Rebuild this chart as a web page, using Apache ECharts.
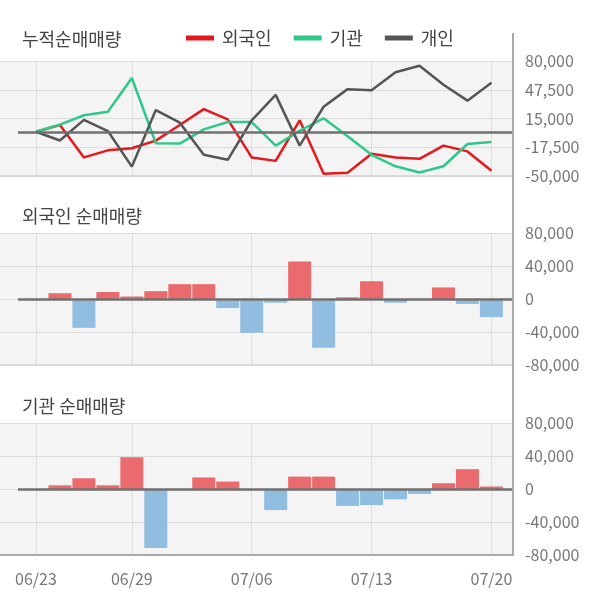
<!DOCTYPE html>
<html>
<head>
<meta charset="utf-8">
<script src="https://cdn.jsdelivr.net/npm/echarts@6/dist/echarts.min.js"></script>
<style>
html,body{margin:0;padding:0;background:#fff;}
#chart{width:600px;height:604px;}
</style>
</head>
<body>
<div id="chart"></div>
<script>
// ---- data ----
var dates = ['06/23','06/24','06/25','06/26','06/29','06/30','07/01','07/02','07/03','07/06',
             '07/07','07/08','07/09','07/10','07/13','07/14','07/15','07/16','07/17','07/20'];
var labelIdx = [0, 4, 9, 14, 19];
var foreignCum = [0, 7600, -29000, -21000, -18700, -10000, 7600, 25600, 14000, -29000,
                  -32900, 13000, -47400, -46300, -24900, -29000, -30600, -15700, -22200, -44000];
var instCum = [0, 8000, 18700, 22600, 60800, -13000, -13400, 2700, 11000, 11000,
               -15700, 1000, 15300, -5000, -26000, -39000, -46000, -39000, -13800, -11500];
var indivCum = [0, -9900, 13400, 800, -39400, 24500, 10300, -26000, -31700, 13000,
                41700, -15700, 28300, 48200, 47000, 67300, 74600, 53200, 35200, 55500];
var foreignNet = [0, 7000, -35000, 8500, 3000, 9500, 18000, 18000, -11000, -41000,
                  -4500, 45500, -59000, 2000, 21500, -4500, 0, 14000, -6000, -22000];
var instNet = [0, 4500, 13000, 4500, 38500, -71500, 0, 14000, 9000, 0,
               -25500, 15000, 15000, -20500, -19500, -12500, -6000, 7000, 24000, 3000];
var topTicks = {min: -50000, max: 80000, interval: 32500};
var barTicks = {min: -80000, max: 80000, interval: 40000};

// ---- styles ----
var FONT = '"Noto Sans CJK KR", "Noto Sans", sans-serif';
var C_RED = '#e8161d', C_GREEN = '#2fc88b', C_DARK = '#555555';
var C_POS = '#ea6a6e', C_NEG = '#90bde0';
var XMIN = -1.5, XMAX = 19.9;

function pairs(arr){ return arr.map(function(v,i){ return [i, v]; }); }
function fmt(v){ return v.toLocaleString('en-US'); }

var grids = [
  {left: 0, right: 87, top: 61, height: 115},
  {left: 0, right: 87, top: 233, height: 132},
  {left: 0, right: 87, top: 423, height: 132}
].map(function(g){
  g.show = true; g.backgroundColor = '#f4f4f4'; g.borderWidth = 0; g.outerBoundsMode = 'none';
  return g;
});

function xAxis(gi, showLabel, lineColor, lineWidth){
  return {
    type: 'value', gridIndex: gi, min: XMIN, max: XMAX,
    axisLine: {show: true, onZero: false, lineStyle: {color: lineColor, width: lineWidth}},
    axisTick: {show: false, customValues: labelIdx},
    splitLine: {show: true, lineStyle: {color: '#dcdcdc', width: 1}},
    axisLabel: {show: showLabel, customValues: labelIdx, margin: 16,
      formatter: function(v){ return dates[Math.round(v)]; },
      color: '#777', fontSize: 16, fontFamily: FONT}
  };
}
function yAxis(gi, t){
  return {
    type: 'value', gridIndex: gi, position: 'right', min: t.min, max: t.max, interval: t.interval,
    axisLine: {show: false}, axisTick: {show: false},
    splitLine: {show: true, lineStyle: {color: '#dcdcdc', width: 1}},
    axisLabel: {margin: 12, color: '#777', fontSize: 16, fontFamily: FONT, formatter: fmt}
  };
}
function zeroLine(){
  return {
    silent: true, symbol: 'none', label: {show: false},
    lineStyle: {color: '#707070', width: 2.5, type: 'solid'},
    data: [[{coord: [-0.75, 0]}, {coord: [XMAX, 0]}]]
  };
}
function lineSeries(name, arr, color, withZero){
  var s = {name: name, type: 'line', xAxisIndex: 0, yAxisIndex: 0, data: pairs(arr),
    symbol: 'none', lineStyle: {color: color, width: 2.5}, itemStyle: {color: color},
    z: 3, animation: false};
  if (withZero) s.markLine = zeroLine();
  return s;
}
function barSeries(arr, gi){
  return {type: 'bar', xAxisIndex: gi, yAxisIndex: gi, data: pairs(arr), barWidth: 23,
    itemStyle: {color: function(p){ return p.value[1] >= 0 ? C_POS : C_NEG; }},
    markLine: zeroLine(), animation: false};
}

var titleStyle = {fontSize: 18, fontWeight: 'normal', color: '#444', fontFamily: FONT};
var option = {
  animation: false,
  textStyle: {fontFamily: FONT},
  title: [
    {text: '누적순매매량', left: 22, top: 30, padding: 0, textStyle: titleStyle},
    {text: '외국인 순매매량', left: 22, top: 207, padding: 0, textStyle: titleStyle},
    {text: '기관 순매매량', left: 22, top: 397, padding: 0, textStyle: titleStyle}
  ],
  legend: {
    left: 186, top: 29, padding: 0, itemGap: 22, itemWidth: 28, itemHeight: 5, icon: 'rect',
    textStyle: {fontSize: 18, color: '#444', fontFamily: FONT, padding: [0, 0, 0, 3]},
    data: ['외국인', '기관', '개인']
  },
  grid: grids,
  xAxis: [xAxis(0, false, '#cfcfcf', 1.5), xAxis(1, false, '#d8d8d8', 1.5), xAxis(2, true, '#aaaaaa', 2)],
  yAxis: [yAxis(0, topTicks), yAxis(1, barTicks), yAxis(2, barTicks)],
  series: [
    lineSeries('외국인', foreignCum, C_RED, true),
    lineSeries('기관', instCum, C_GREEN, false),
    lineSeries('개인', indivCum, C_DARK, false),
    barSeries(foreignNet, 1),
    barSeries(instNet, 2)
  ],
  graphic: [{
    type: 'line', silent: true, z: 100,
    shape: {x1: 513, y1: 33, x2: 513, y2: 556},
    style: {stroke: '#aaaaaa', lineWidth: 2}
  }]
};
var chart = echarts.init(document.getElementById('chart'), null, {renderer: 'canvas'});
chart.setOption(option);
</script>
</body>
</html>
